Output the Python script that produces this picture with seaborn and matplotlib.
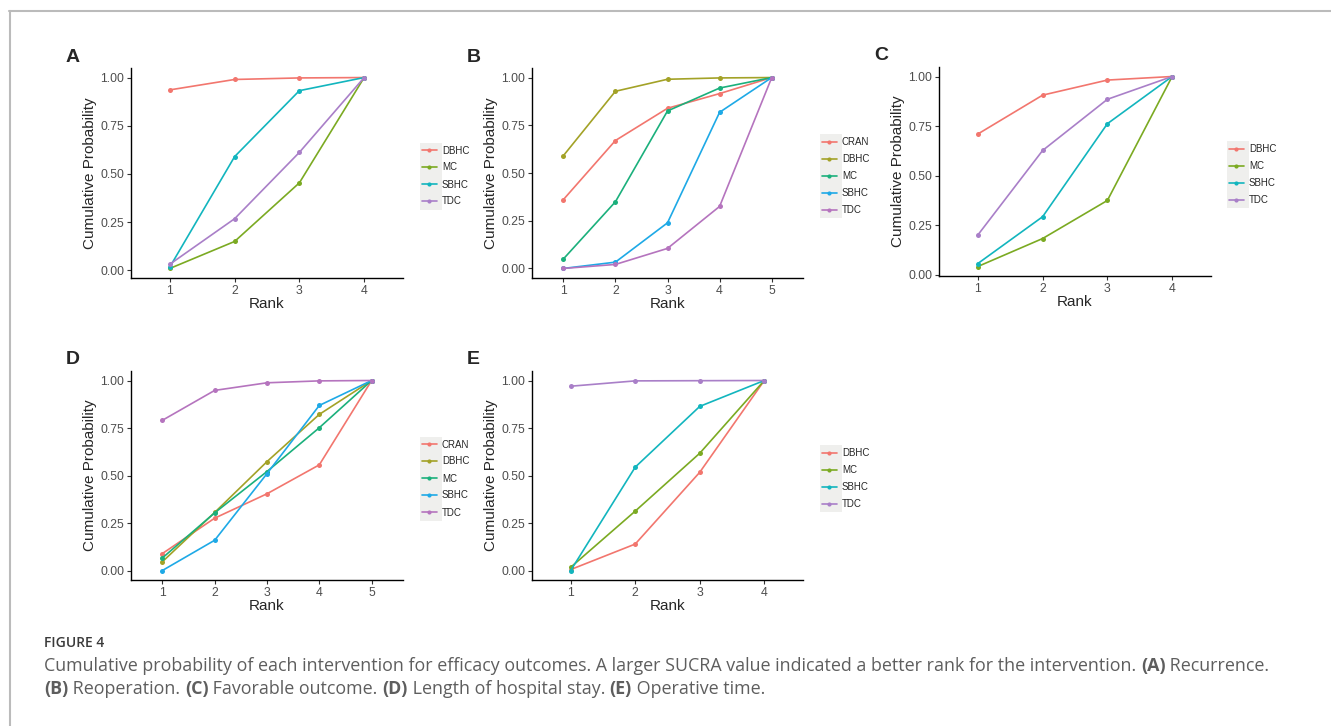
import numpy as np
import pandas as pd
import matplotlib
matplotlib.use('Agg')
import matplotlib.pyplot as plt
from matplotlib.lines import Line2D
from matplotlib.patches import Rectangle
import seaborn as sns

# ---- data ----
ranks4 = [1, 2, 3, 4]
ranks5 = [1, 2, 3, 4, 5]

# A: Recurrence
a_arms = ['DBHC', 'MC', 'SBHC', 'TDC']
a_vals = {
    'DBHC': [0.936, 0.990, 0.998, 1.0],
    'MC':   [0.010, 0.150, 0.454, 1.0],
    'SBHC': [0.018, 0.590, 0.932, 1.0],
    'TDC':  [0.032, 0.268, 0.612, 1.0],
}
# B: Reoperation
b_arms = ['CRAN', 'DBHC', 'MC', 'SBHC', 'TDC']
b_vals = {
    'CRAN': [0.360, 0.670, 0.839, 0.916, 1.0],
    'DBHC': [0.590, 0.928, 0.991, 0.998, 1.0],
    'MC':   [0.049, 0.349, 0.825, 0.945, 1.0],
    'SBHC': [0.000, 0.033, 0.239, 0.818, 1.0],
    'TDC':  [0.000, 0.021, 0.105, 0.325, 1.0],
}
# C: Favorable outcome
c_arms = ['DBHC', 'MC', 'SBHC', 'TDC']
c_vals = {
    'DBHC': [0.710, 0.906, 0.982, 1.0],
    'MC':   [0.042, 0.183, 0.375, 1.0],
    'SBHC': [0.057, 0.293, 0.762, 1.0],
    'TDC':  [0.201, 0.627, 0.885, 1.0],
}
# D: Length of hospital stay
d_arms = ['CRAN', 'DBHC', 'MC', 'SBHC', 'TDC']
d_vals = {
    'CRAN': [0.091, 0.277, 0.405, 0.557, 1.0],
    'DBHC': [0.048, 0.307, 0.574, 0.822, 1.0],
    'MC':   [0.068, 0.305, 0.522, 0.752, 1.0],
    'SBHC': [0.002, 0.161, 0.511, 0.869, 1.0],
    'TDC':  [0.791, 0.948, 0.988, 0.998, 1.0],
}
# E: Operative time
e_arms = ['DBHC', 'MC', 'SBHC', 'TDC']
e_vals = {
    'DBHC': [0.007, 0.141, 0.518, 1.0],
    'MC':   [0.019, 0.314, 0.618, 1.0],
    'SBHC': [0.002, 0.545, 0.864, 1.0],
    'TDC':  [0.970, 0.998, 0.999, 1.0],
}

# ggplot-like hue colours (a bit muted, as in the print)
pal4 = ['#F2766E', '#7BAA22', '#12B5BE', '#A97FC8']
pal5 = ['#F2766E', '#A3A227', '#1BB07C', '#1EA9E6', '#B574BE']

caption_head = 'FIGURE 4'
caption_l1 = [('Cumulative probability of each intervention for efficacy outcomes. '
               'A larger SUCRA value indicated a better rank for the intervention. ', 'normal'),
              ('(A)', 'bold'), (' Recurrence.', 'normal')]
caption_l2 = [('(B)', 'bold'), (' Reoperation. ', 'normal'), ('(C)', 'bold'),
              (' Favorable outcome. ', 'normal'), ('(D)', 'bold'),
              (' Length of hospital stay. ', 'normal'), ('(E)', 'bold'),
              (' Operative time.', 'normal')]

sns.set_style('ticks')
plt.rcParams['font.family'] = ['Liberation Sans', 'DejaVu Sans']

W, H = 1331, 726
fig = plt.figure(figsize=(W / 100, H / 100), dpi=100)


def px_box(left, top, right, bottom):
    return [left / W, 1 - bottom / H, (right - left) / W, (bottom - top) / H]


def draw_panel(box, letter, ranks, arms, vals, palette, leg_x):
    ax = fig.add_axes(px_box(*box))
    df = pd.DataFrame([(r, arm, v) for arm in arms for r, v in zip(ranks, vals[arm])],
                      columns=['Rank', 'arm', 'prob'])
    sns.lineplot(data=df, x='Rank', y='prob', hue='arm', hue_order=arms,
                 palette=palette, marker='o', markersize=3.6, markeredgewidth=0,
                 linewidth=1.2, ax=ax)
    n = len(ranks)
    ax.set_xlim(0.4, n + 0.6)
    lo, hi = df['prob'].min(), df['prob'].max()
    pad = 0.05 * (hi - lo)
    ax.set_ylim(lo - pad, hi + pad)
    ax.set_xticks(ranks)
    ax.set_yticks([0, 0.25, 0.5, 0.75, 1.0])
    ax.set_yticklabels(['0.00', '0.25', '0.50', '0.75', '1.00'])
    ax.tick_params(axis='both', labelsize=8.8, labelcolor='#4D4D4D', color='#333333',
                   length=3, width=0.8, pad=2)
    for s in ['left', 'bottom']:
        ax.spines[s].set_linewidth(1.0)
        ax.spines[s].set_color('black')
    sns.despine(ax=ax)
    ax.set_xlabel('Rank', fontsize=11, labelpad=0)
    ax.set_ylabel('Cumulative Probability', fontsize=11, labelpad=2)
    handles, labels = ax.get_legend_handles_labels()
    for h in handles:
        h.set_marker('o')
        h.set_markersize(3)
        h.set_markeredgewidth(0)
    ax.get_legend().remove()
    yc = 1 - ((box[1] + box[3]) / 2 + 3) / H
    leg = fig.legend(handles, labels, loc='center left',
                     bbox_to_anchor=(leg_x / W, yc), frameon=False,
                     fontsize=7, handlelength=1.5, handletextpad=0.55,
                     labelspacing=0.72, borderpad=0, borderaxespad=0)
    fig.text((box[0] - 65) / W, 1 - (box[1] - 11) / H, letter, fontsize=14,
             fontweight='bold', va='center', ha='left')
    return ax, leg


panels = [
    ((131, 68, 403, 278), 'A', ranks4, a_arms, a_vals, pal4, 422),
    ((532, 68, 803, 278), 'B', ranks5, b_arms, b_vals, pal5, 822),
    ((939, 67, 1211, 276), 'C', ranks4, c_arms, c_vals, pal4, 1229),
    ((131, 371, 403, 580), 'D', ranks5, d_arms, d_vals, pal5, 422),
    ((532, 371, 803, 580), 'E', ranks4, e_arms, e_vals, pal4, 822),
]
legends = [draw_panel(*p)[1] for p in panels]

# grey key background behind legend keys
fig.canvas.draw()
renderer = fig.canvas.get_renderer()
for leg in legends:
    bb = leg.get_window_extent(renderer)
    fig.patches.append(Rectangle(((bb.x0 - 2) / W, (bb.y0 - 3) / H), 22 / W,
                                 (bb.height + 6) / H, transform=fig.transFigure,
                                 facecolor='#EFEFED', edgecolor='none', zorder=0))

# page frame lines
fig.add_artist(Line2D([9 / W, 1], [1 - 10.5 / H, 1 - 10.5 / H], color='#BBBBBB', lw=1.5))
fig.add_artist(Line2D([9.5 / W, 9.5 / W], [0, 1 - 10.5 / H], color='#BBBBBB', lw=1.5))

# caption
cap_font = ['Open Sans', 'DejaVu Sans']
fig.text(44 / W, 1 - 643 / H, caption_head, fontsize=10, color='#3A3A3A',
         family=cap_font, va='center', fontweight='semibold')


def rich_line(y_px, parts):
    x = 44
    for s, w in parts:
        t = fig.text(x / W, 1 - y_px / H, s, fontsize=12.9, color='#5E5E5E',
                     family=cap_font, fontweight=w, va='center')
        x += t.get_window_extent(renderer).width


rich_line(666, caption_l1)
rich_line(689, caption_l2)

fig.savefig('out.png', dpi=100)
